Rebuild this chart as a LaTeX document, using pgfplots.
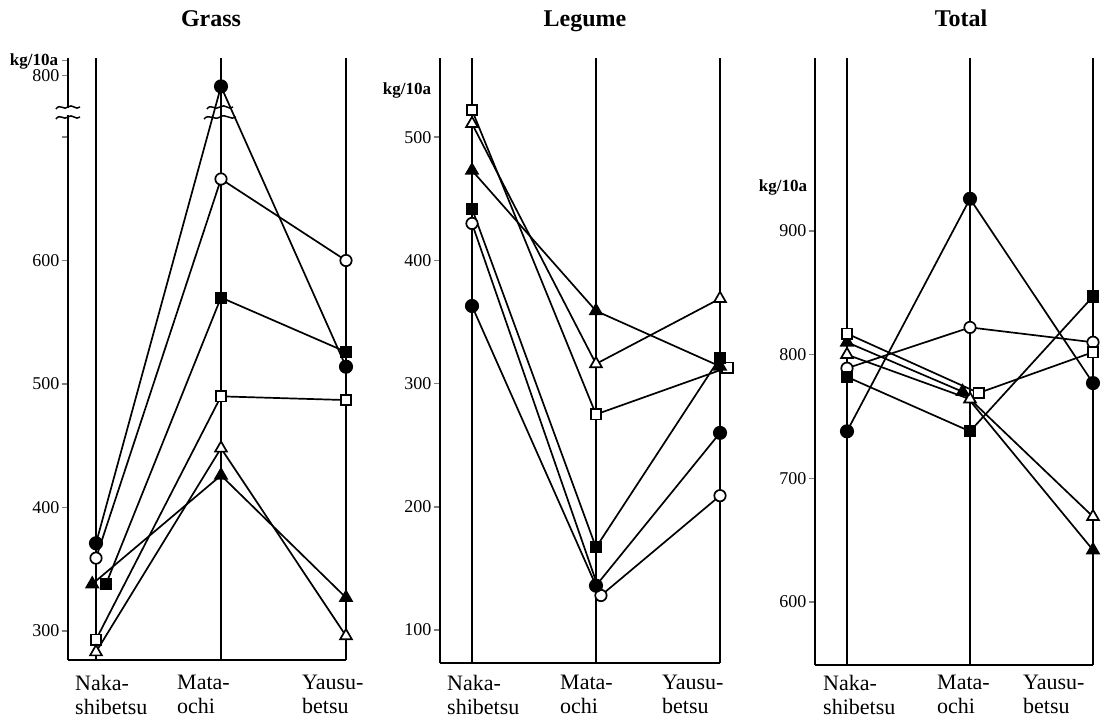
\documentclass[border=0pt]{standalone}
\usepackage{fontspec}
\setmainfont{Liberation Serif}
\usepackage{pgfplots}
\pgfplotsset{compat=1.18}

\pgfplotsset{
  panel/.style={
    scale only axis,
    anchor=south west,
    clip=false,
    axis lines*=left,
    axis line style={line width=2.5pt},
    xtick={0,1,2}, xticklabels={,,},
    xtick style={draw=none},
    ytick style={line width=1.5pt},
    major tick length=6pt,
    tick align=outside,
    xmajorgrids=true, ymajorgrids=false,
    grid style={black, line width=2.5pt},
    xmax=2,
    /pgf/number format/assume math mode=true,
    yticklabel style={font=\fontsize{18}{20}\selectfont, xshift=1pt},
  },
  ser/.style={black, line width=1.7pt, mark options={solid, line width=1.5pt}},
  fc/.style={ser, mark=*, mark size=6.2pt, mark options={fill=black}},
  oc/.style={ser, mark=*, mark size=5.7pt, mark options={fill=white}},
  fs/.style={ser, mark=square*, mark size=5.2pt, mark options={fill=black}},
  os/.style={ser, mark=square*, mark size=5.2pt, mark options={fill=white}},
  ft/.style={ser, mark=triangle*, mark size=6.8pt, mark options={fill=black}},
  ot/.style={ser, mark=triangle*, mark size=6.8pt, mark options={fill=white}},
}

\begin{document}
\begin{tikzpicture}[x=1pt,y=1pt]
\useasboundingbox (0,0) rectangle (1105,724);

% ---------------- Grass (values above the break shown on compressed scale: tick "800" at 750)
\begin{axis}[panel, at={(68pt,64pt)}, width=278pt, height=602pt,
  xmin=-0.224, ymin=276.5, ymax=764,
  ytick={300,400,500,600,700,750,762},
  yticklabels={300,400,500,600,,800,}]
\addplot[fc] coordinates {(0,371) (1,741) (2,514)};
\addplot[oc] coordinates {(0,359) (1,666) (2,600)};
\addplot[fs] coordinates {(0.08,338) (1,570) (2,526)};
\addplot[os] coordinates {(0,293) (1,490) (2,487)};
\addplot[ot] coordinates {(0,283) (1,448) (2,296)};
\addplot[ft] coordinates {(-0.03,338) (1,426) (2,327)};
\end{axis}

% axis break marks (Grass)
\fill[white] (60,608.5) rectangle (76,615.5);
\draw[line width=1.5pt] (56,605) .. controls (60,611) and (64,603) .. (68,607) .. controls (72,611) and (76,603) .. (80,607);
\draw[line width=1.5pt] (56,615) .. controls (60,621) and (64,613) .. (68,617) .. controls (72,621) and (76,613) .. (80,617);
\draw[line width=1.5pt] (204,605) .. controls (209,611) and (214,603) .. (220,607) .. controls (226,611) and (231,603) .. (236,607);
\draw[line width=1.5pt] (207,615) .. controls (211,621) and (215,613) .. (220,617) .. controls (225,621) and (229,613) .. (233,617);

% ---------------- Legume
\begin{axis}[panel, at={(440pt,61pt)}, width=280pt, height=605pt,
  xmin=-0.258, ymin=73.2, ymax=564.3,
  ytick={100,200,300,400,500}]
\addplot[os] coordinates {(0,522) (1,275) (2.06,313)};
\addplot[ot] coordinates {(0,511) (1,316) (2,369)};
\addplot[ft] coordinates {(0,473) (1,359) (2,314)};
\addplot[fs] coordinates {(0,442) (1,167) (2,321)};
\addplot[oc] coordinates {(0,430) (1.04,128) (2,209)};
\addplot[fc] coordinates {(0,363) (1,136) (2,260)};
\end{axis}

% ---------------- Total
\begin{axis}[panel, at={(815pt,59pt)}, width=278pt, height=607pt,
  xmin=-0.26, ymin=549.1, ymax=1039.8,
  ytick={600,700,800,900}]
\addplot[fc] coordinates {(0,738) (1,926) (2,777)};
\addplot[oc] coordinates {(0,789) (1,822) (2,810)};
\addplot[fs] coordinates {(0,782) (1,738) (2,847)};
\addplot[ot] coordinates {(0,800) (1,764) (2,669)};
\addplot[ft] coordinates {(0,810) (0.94,770) (2,642)};
\addplot[os] coordinates {(0,817) (1.07,769) (2,802)};
\end{axis}

% titles
\begin{scope}[every node/.style={font=\bfseries\fontsize{24}{28}\selectfont, anchor=base}]
\node at (211,697) {Grass};
\node at (585,697) {Legume};
\node at (961,697) {Total};
\end{scope}

% unit labels
\begin{scope}[every node/.style={font=\bfseries\fontsize{17}{20}\selectfont, inner sep=1pt}]
\node at (34,663) {kg/10a};
\node at (407,634) {kg/10a};
\node at (783,537) {kg/10a};
\end{scope}

% site labels
\begin{scope}[every node/.style={font=\fontsize{22}{24}\selectfont, align=left, anchor=north west, inner sep=0pt}]
\node at (75,49) {Naka-\\shibetsu};
\node at (177,49) {Mata-\\ochi};
\node at (302,49) {Yausu-\\betsu};
\node at (447,49) {Naka-\\shibetsu};
\node at (560,49) {Mata-\\ochi};
\node at (662,49) {Yausu-\\betsu};
\node at (823,49) {Naka-\\shibetsu};
\node at (937,49) {Mata-\\ochi};
\node at (1023,49) {Yausu-\\betsu};
\end{scope}
\end{tikzpicture}
\end{document}
